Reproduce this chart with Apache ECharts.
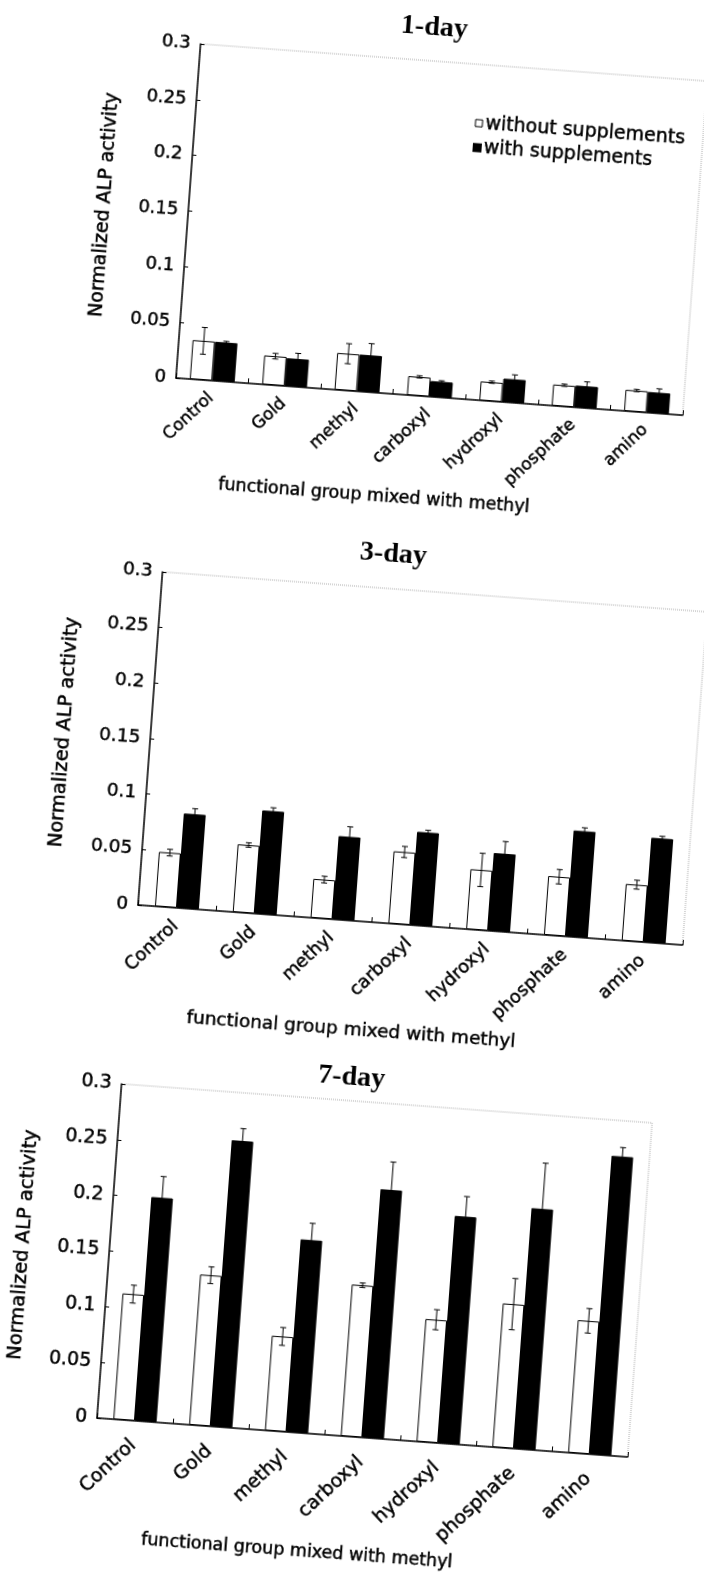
<!DOCTYPE html>
<html>
<head>
<meta charset="utf-8">
<script src="https://cdn.jsdelivr.net/npm/echarts@6/dist/echarts.min.js"></script>
<style>
  html, body { margin: 0; padding: 0; background: #fff; width: 704px; height: 1573px; overflow: hidden; position: relative; }
  .chart { position: absolute; }
</style>
</head>
<body>
<div id="c1" class="chart"></div>
<div id="c2" class="chart"></div>
<div id="c3" class="chart"></div>
<script>
// ---------- data ----------
const categories = ['Control', 'Gold', 'methyl', 'carboxyl', 'hydroxyl', 'phosphate', 'amino'];
const seriesNames = ['without supplements', 'with supplements'];
const titles = ['1-day', '3-day', '7-day'];
const yTicks = [0, 0.05, 0.1, 0.15, 0.2, 0.25, 0.3];

const day1Without    = [0.035, 0.026, 0.033, 0.017, 0.017, 0.019, 0.019];
const day1WithoutErr = [0.012, 0.0025, 0.009, 0.001, 0.001, 0.001, 0.001];
const day1With       = [0.035, 0.025, 0.033, 0.014, 0.021, 0.0195, 0.0185];
const day1WithErr    = [0.001, 0.005, 0.0105, 0.001, 0.004, 0.004, 0.0035];

const day3Without    = [0.049, 0.061, 0.035, 0.065, 0.054, 0.053, 0.051];
const day3WithoutErr = [0.003, 0.002, 0.003, 0.005, 0.015, 0.0065, 0.004];
const day3With       = [0.085, 0.093, 0.075, 0.084, 0.070, 0.0955, 0.094];
const day3WithErr    = [0.005, 0.003, 0.009, 0.002, 0.011, 0.003, 0.002];

const day7Without    = [0.113, 0.135, 0.085, 0.136, 0.110, 0.129, 0.119];
const day7WithoutErr = [0.008, 0.0075, 0.008, 0.002, 0.009, 0.023, 0.011];
const day7With       = [0.201, 0.257, 0.173, 0.223, 0.204, 0.216, 0.268];
const day7WithErr    = [0.019, 0.011, 0.015, 0.025, 0.018, 0.041, 0.008];

// ---------- layout (scan is rotated ~4.2deg clockwise) ----------
const ROT = 4.2;
const layouts = [
  { id: 'c1', origin: [176, 378], w: 508, h: 335, gl: 130, gt: 60, W: 670, H: 540,
    title: [362, 27], yGap: 74, xPad: 96, xGap: 80, gapRatio: 0.38, catMargin: 15,
    tickFont: 18, catFont: 17, yNameFont: 19, xNameFont: 17.5, legend: true },
  { id: 'c2', origin: [138, 905], w: 546, h: 334, gl: 130, gt: 60, W: 700, H: 540,
    title: [359, 26], yGap: 76, xPad: 103, xGap: 82, gapRatio: 0.435, catMargin: 16,
    tickFont: 18.5, catFont: 18, yNameFont: 19.5, xNameFont: 18.5, legend: false },
  { id: 'c3', origin: [97, 1418], w: 532, h: 335, gl: 130, gt: 60, W: 690, H: 560,
    title: [359, 37], yGap: 76, xPad: 114, xGap: 103, gapRatio: 0.43, catMargin: 22,
    tickFont: 19, catFont: 19, yNameFont: 19.5, xNameFont: 17.5, legend: false }
];
const datasets = [
  [day1Without, day1WithoutErr, day1With, day1WithErr],
  [day3Without, day3WithoutErr, day3With, day3WithErr],
  [day7Without, day7WithoutErr, day7With, day7WithErr]
];

const SANS = 'DejaVu Sans';
const INK = { color: '#000', textBorderColor: '#000', textBorderWidth: 0.45 };

function errRender(sign, gapRatio) {
  return function (params, api) {
    const i = api.value(0), v = api.value(1), e = api.value(2);
    const band = api.size([1, 0])[0];
    const bw = band * (1 - gapRatio) / 2;
    const cx = api.coord([i, 0])[0] + sign * bw / 2;
    const top = api.coord([i, v + e])[1];
    const bot = api.coord([i, v - e])[1];
    const cap = 3;
    const st = { stroke: '#000', lineWidth: 1 };
    return { type: 'group', children: [
      { type: 'line', shape: { x1: cx, y1: top, x2: cx, y2: bot }, style: st },
      { type: 'line', shape: { x1: cx - cap, y1: top, x2: cx + cap, y2: top }, style: st },
      { type: 'line', shape: { x1: cx - cap, y1: bot, x2: cx + cap, y2: bot }, style: st }
    ]};
  };
}

layouts.forEach(function (L, k) {
  const el = document.getElementById(L.id);
  const ox = L.gl, oy = L.gt + L.h;
  el.style.width = L.W + 'px';
  el.style.height = L.H + 'px';
  el.style.left = (L.origin[0] - ox) + 'px';
  el.style.top = (L.origin[1] - oy) + 'px';
  el.style.transformOrigin = ox + 'px ' + oy + 'px';
  el.style.transform = 'rotate(' + ROT + 'deg)';

  const d = datasets[k];
  const chart = echarts.init(el, null, { renderer: 'canvas' });
  const option = {
    animation: false,
    backgroundColor: 'transparent',
    grid: { left: L.gl, top: L.gt, width: L.w, height: L.h, show: true,
            borderColor: '#aaa', borderWidth: 1, borderType: 'dotted', backgroundColor: 'transparent' },
    graphic: [{
      type: 'text', x: L.title[0], y: L.title[1],
      style: { text: titles[k], fill: '#000', align: 'center', verticalAlign: 'middle',
               font: 'bold 28px "Liberation Serif", "Times New Roman", serif' }
    }],
    legend: L.legend ? {
      show: true, orient: 'vertical', left: 404, top: 104, itemWidth: 7, itemHeight: 7, itemGap: 5,
      icon: 'rect',
      textStyle: Object.assign({ fontFamily: SANS, fontSize: 19, padding: [0, 0, 0, -2] }, INK),
      data: [
        { name: seriesNames[0], itemStyle: { color: '#fff', borderColor: '#000', borderWidth: 1 } },
        { name: seriesNames[1], itemStyle: { color: '#000' } }
      ]
    } : { show: false },
    xAxis: {
      type: 'category', data: categories,
      axisLine: { lineStyle: { color: '#000', width: 1.5 } },
      axisTick: { show: true, inside: true, length: 5, lineStyle: { color: '#000' } },
      axisLabel: Object.assign({ rotate: 47, margin: L.catMargin, fontFamily: SANS, fontSize: L.catFont, interval: 0 }, INK),
      name: 'functional group mixed with methyl', nameLocation: 'middle', nameGap: L.xGap,
      nameTextStyle: Object.assign({ fontFamily: SANS, fontSize: L.xNameFont, padding: [0, L.xPad, 0, 0] }, INK),
      splitLine: { show: false }
    },
    yAxis: {
      type: 'value', min: yTicks[0], max: yTicks[yTicks.length - 1], interval: yTicks[1] - yTicks[0],
      axisLine: { show: true, lineStyle: { color: '#000', width: 1.5 } },
      axisTick: { show: true, inside: true, length: 4, lineStyle: { color: '#000' } },
      axisLabel: Object.assign({ fontFamily: SANS, fontSize: L.tickFont, margin: 10,
                   formatter: function (v) { return String(+v.toFixed(2)); } }, INK),
      splitLine: { show: false },
      name: 'Normalized ALP activity', nameLocation: 'middle', nameRotate: 90, nameGap: L.yGap,
      nameTextStyle: Object.assign({ fontFamily: SANS, fontSize: L.yNameFont }, INK)
    },
    series: [
      { name: seriesNames[0], type: 'bar', data: d[0], barGap: '0%', barCategoryGap: (L.gapRatio * 100) + '%',
        itemStyle: { color: '#fff', borderColor: '#000', borderWidth: 1 } },
      { name: seriesNames[1], type: 'bar', data: d[2], barGap: '0%', barCategoryGap: (L.gapRatio * 100) + '%',
        itemStyle: { color: '#000', borderColor: '#000', borderWidth: 1 } },
      { type: 'custom', renderItem: errRender(-1, L.gapRatio), encode: { x: 0, y: 1 }, z: 5,
        data: categories.map(function (c, i) { return [i, d[0][i], d[1][i]]; }) },
      { type: 'custom', renderItem: errRender(1, L.gapRatio), encode: { x: 0, y: 1 }, z: 5,
        data: categories.map(function (c, i) { return [i, d[2][i], d[3][i]]; }) }
    ]
  };
  chart.setOption(option);
});
</script>
</body>
</html>
